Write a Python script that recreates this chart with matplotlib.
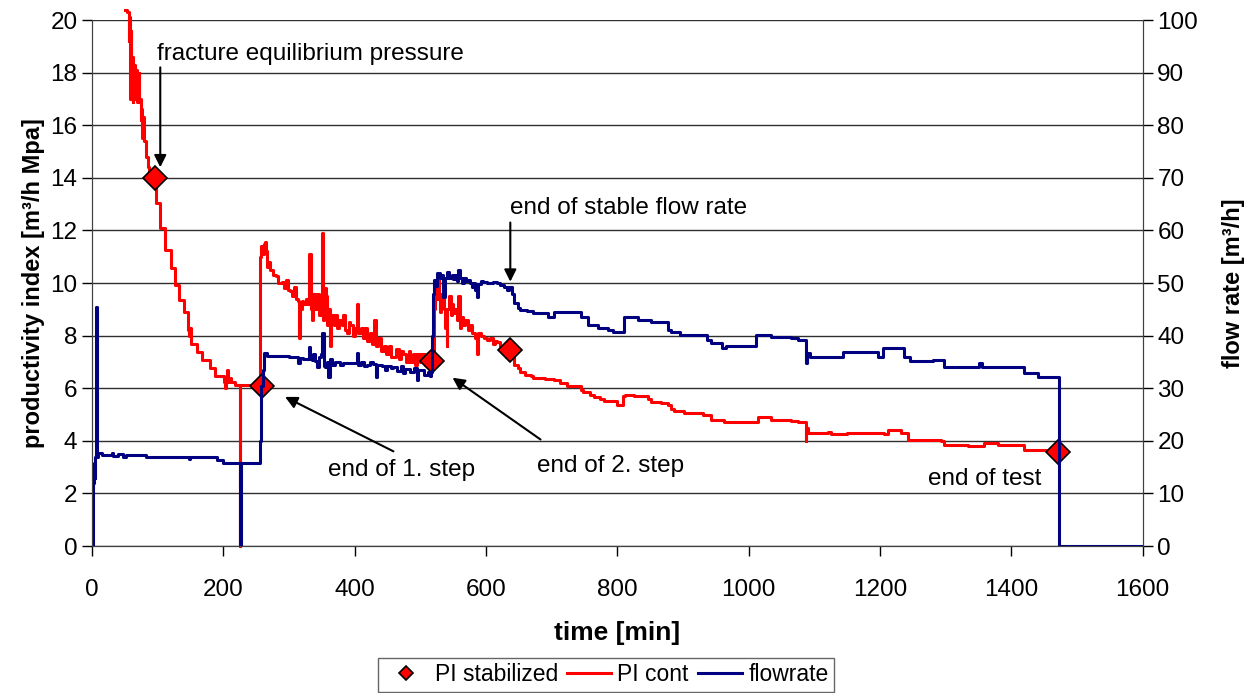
import numpy as np
import matplotlib.pyplot as plt

plt.rcParams['font.family'] = ['Liberation Sans', 'DejaVu Sans']

# PI (continuous) - time [min] and productivity index [m3/h MPa], step values
pi_time = [50, 53, 56, 57, 58, 59, 60, 61, 62, 63, 65, 67, 69, 71, 72, 74, 75, 76, 78, 79,
           82, 85, 87, 97, 104, 111, 120, 127, 133, 140, 146, 148, 150, 151, 160, 168, 180, 187,
           201, 203, 204, 206, 207, 210, 212, 218, 225, 226,
           256, 258, 260, 262, 264, 265, 266, 269, 271, 276, 280, 283, 290, 293, 296, 299, 302, 305,
           308, 310, 313, 315, 317, 320, 322, 326, 329, 331, 333, 335, 337, 340, 343, 346, 349, 351,
           352.5, 354, 356, 358, 360, 362, 364, 368, 370, 373, 376, 380, 383, 386, 389, 391, 393, 397,
           400, 403, 405, 409, 412, 416, 419, 423, 427, 430, 432, 436, 440, 444, 448, 452, 455, 459,
           463, 467, 470, 474, 478, 482, 485, 489, 492, 495, 499, 503, 507, 510, 513, 516,
           521, 523, 525, 527, 529, 530, 532, 534, 536, 538, 540, 541, 543, 546, 548, 550, 553, 556,
           558, 560, 562, 565, 568, 572, 575, 578, 584, 586, 588, 593, 597, 602, 606, 610, 614, 617,
           621, 625, 630, 632, 640, 642, 648, 652, 660, 668, 672, 690, 703, 713, 724, 744, 748, 759,
           764, 774, 779, 800, 809, 812, 825, 846, 851, 866, 877, 881, 886, 901, 931, 942, 962, 1014,
           1034, 1064, 1075, 1087, 1088, 1090, 1120, 1125, 1150, 1206, 1212, 1232, 1242, 1293, 1297,
           1334, 1358, 1380, 1410, 1419, 1471]
pi_value = [20.4, 20.3, 19.2, 20.1, 17.0, 19.6, 17.4, 18.6, 16.9, 18.3, 17.0, 18.1, 16.9, 18.0, 17.0, 16.2, 16.6, 15.5, 16.3, 15.4,
            14.8, 14.4, 14.05, 13.04, 12.1, 11.25, 10.57, 9.92, 9.35, 8.9, 8.2, 8.0, 8.3, 7.7, 7.38, 7.07, 6.77, 6.46,
            6.24, 6.0, 6.24, 6.7, 6.24, 6.4, 6.24, 6.12, 0.0, 6.12,
            11.0, 11.4, 11.1, 11.5, 11.56, 11.2, 10.6, 10.8, 10.5, 10.3, 10.25, 10.0, 10.04, 9.8, 10.1, 9.73, 9.7, 9.5,
            9.85, 9.4, 9.3, 7.9, 9.0, 9.3, 9.2, 9.4, 9.2, 11.1, 9.0, 8.6, 9.6, 9.0, 9.6, 8.8, 9.2, 11.9,
            8.6, 9.8, 9.5, 8.4, 9.0, 7.6, 8.8, 8.4, 8.8, 8.3, 8.6, 8.4, 8.8, 8.2, 8.1, 8.5, 8.4, 8.0,
            8.3, 9.2, 8.1, 8.3, 7.9, 8.3, 7.8, 8.1, 7.7, 8.6, 7.6, 7.9, 7.4, 7.6, 7.3, 7.6, 7.2, 7.2,
            7.5, 7.1, 7.4, 7.3, 7.0, 7.4, 7.0, 7.3, 6.9, 7.3, 7.0, 7.3, 6.9, 7.2, 6.95, 7.05,
            9.0, 9.85, 9.4, 10.1, 9.5, 8.9, 9.6, 9.4, 9.0, 8.3, 7.6, 9.0, 9.5, 8.8, 9.2, 8.85, 9.0, 8.6,
            9.5, 8.3, 8.7, 8.4, 8.6, 8.2, 8.4, 8.1, 7.9, 7.3, 8.1, 8.0, 7.9, 7.85, 7.9, 7.7, 7.8, 7.75,
            7.6, 7.5, 7.2, 7.5, 7.2, 6.9, 6.75, 6.6, 6.5, 6.45, 6.4, 6.35, 6.3, 6.2, 6.1, 5.95, 5.86, 5.74,
            5.67, 5.6, 5.5, 5.36, 5.7, 5.75, 5.7, 5.6, 5.48, 5.45, 5.36, 5.2, 5.15, 5.06, 5.0, 4.8, 4.7, 4.9,
            4.8, 4.75, 4.7, 4.0, 4.5, 4.3, 4.35, 4.25, 4.3, 4.25, 4.4, 4.3, 4.03, 4.0, 3.84,
            3.8, 3.9, 3.85, 3.85, 3.65, 3.57]

# PI stabilized points
pi_stab_time = [96, 259, 518, 637, 1471]
pi_stab_value = [14.0, 6.1, 7.03, 7.47, 3.57]

# flow rate [m3/h]
flow_time = [0, 1, 2, 3, 4, 5, 6, 7, 9, 15, 30, 32, 40, 48, 52, 82, 147, 149, 191, 200, 226, 227,
             256, 258, 260, 262, 266, 300, 314, 317, 322, 330, 332, 335, 337, 340, 343, 346, 349, 351,
             353, 355, 358, 360, 362, 366, 370, 377, 383, 389, 398, 403, 405, 409, 414, 419, 424, 428,
             432, 434, 442, 446, 450, 455, 459, 465, 470, 474, 476, 485, 490, 495, 497, 505, 511, 514,
             517, 518, 519, 521, 524, 526, 530, 533, 535, 537, 541, 544, 548, 550, 553, 556, 558, 560,
             564, 567, 570, 572, 575, 578, 581, 584, 586, 588, 593, 596, 602, 610, 617, 622, 627, 632,
             635, 640, 642, 648, 652, 663, 672, 694, 703, 744, 755, 770, 785, 794, 810, 831, 851, 877,
             881, 896, 937, 942, 960, 965, 1011, 1034, 1064, 1075, 1087, 1089, 1093, 1143, 1197, 1204,
             1236, 1245, 1280, 1297, 1350, 1356, 1419, 1440, 1473, 1598]
flow_value = [0, 8.7, 12.0, 15.8, 13.0, 17.0, 45.4, 17.0, 17.7, 17.3, 17.6, 17.2, 17.4, 17.0, 17.3, 16.9, 16.5, 16.9, 16.35, 15.8, 0, 15.8,
              20.0, 30.5, 33.5, 36.7, 36.2, 36.0, 34.8, 35.8, 35.5, 37.8, 35.5, 35.3, 36.5, 35.2, 34.0, 36.0, 36.5, 40.5,
              34.2, 34.0, 35.0, 32.1, 35.5, 34.5, 35.0, 34.5, 34.7, 34.8, 34.7, 36.7, 34.5, 35.0, 34.2, 34.5, 35.0, 34.6,
              32.1, 34.4, 34.2, 33.5, 34.3, 33.8, 34.0, 33.3, 34.2, 32.8, 33.6, 33.0, 33.8, 31.6, 33.5, 32.5, 33.0, 32.4,
              33.0, 40.0, 48.0, 50.6, 49.5, 51.9, 51.0, 51.5, 47.3, 51.0, 52.1, 51.0, 51.5, 50.8, 51.5, 50.4, 52.5, 51.0,
              50.0, 50.9, 50.3, 50.6, 50.0, 49.2, 50.0, 48.6, 47.3, 49.8, 50.4, 50.2, 50.0, 50.2, 50.0, 49.6, 49.2, 48.6,
              49.2, 48.0, 46.2, 45.2, 44.9, 44.7, 44.3, 43.5, 44.5, 43.5, 42.0, 41.4, 41.1, 40.7, 43.5, 43.0, 42.6, 41.1,
              40.7, 40.1, 39.2, 38.6, 37.6, 38.0, 40.1, 39.8, 39.5, 39.2, 34.8, 36.7, 36.0, 36.9, 36.0, 37.6,
              36.0, 35.2, 35.4, 34.0, 34.8, 34.1, 32.9, 32.2, 0, 0]

# Create figure with two y axes
fig = plt.figure(figsize=(12.53, 6.93), dpi=100)
ax = fig.add_axes([0.0734, 0.2121, 0.8386, 0.759])
ax2 = ax.twinx()

ax.plot(pi_time, pi_value, color='#ff0000', lw=2.2, drawstyle='steps-post', clip_on=False, label='PI cont')
ax.plot(pi_stab_time, pi_stab_value, linestyle='none', marker='D', ms=12, mfc='#ff0000', mec='black', mew=1.2,
        zorder=3, label='PI stabilized')
ax2.plot(flow_time, flow_value, color='#000080', lw=2.2, drawstyle='steps-post', label='flowrate')

# Axes limits and ticks
ax.set_xlim(0, 1600)
ax.set_ylim(0, 20)
ax2.set_ylim(0, 100)
ax.set_xticks(np.arange(0, 1601, 200))
ax.set_yticks(np.arange(0, 21, 2))
ax2.set_yticks(np.arange(0, 101, 10))
ax.tick_params(axis='both', labelsize=17.5, direction='out', length=7, width=1)
ax.tick_params(axis='x', pad=17)
ax2.tick_params(axis='y', labelsize=17.5, direction='out', length=7, width=1)
ax.grid(axis='y', color='#303030', lw=1)
for a in (ax, ax2):
    a.spines['top'].set_visible(False)
    for s in ('left', 'right', 'bottom'):
        a.spines[s].set_color('#404040')

ax.set_xlabel('time [min]', fontsize=19, fontweight='bold', labelpad=14)
ax.set_ylabel('productivity index [m³/h Mpa]', fontsize=17, fontweight='bold', labelpad=4)
ax2.set_ylabel('flow rate [m³/h]', fontsize=17, fontweight='bold', labelpad=17)

# Annotations
arrow = dict(arrowstyle='-|>', color='black', lw=1.5, mutation_scale=18, shrinkA=0, shrinkB=0)
ax.text(99, 18.7, 'fracture equilibrium pressure', fontsize=17.5, va='center')
ax.annotate('', xy=(104, 14.4), xytext=(104, 18.2), arrowprops=arrow)
ax.text(637, 12.85, 'end of stable flow rate', fontsize=17.5, va='center')
ax.annotate('', xy=(637, 10.05), xytext=(637, 12.3), arrowprops=arrow)
ax.text(360, 2.9, 'end of 1. step', fontsize=17.5, va='center')
ax.annotate('', xy=(294, 5.67), xytext=(459, 3.6), arrowprops=arrow)
ax.text(678, 3.05, 'end of 2. step', fontsize=17.5, va='center')
ax.annotate('', xy=(549, 6.4), xytext=(683, 4.05), arrowprops=arrow)
ax.text(1273, 2.55, 'end of test', fontsize=17.5, va='center')

# Legend below the plot
h1, l1 = ax.get_legend_handles_labels()
h2, l2 = ax2.get_legend_handles_labels()
handles = [h1[1], h1[0], h2[0]]
labels = [l1[1], l1[0], l2[0]]
leg = fig.legend(handles, labels, loc='center', bbox_to_anchor=(0.484, 0.026), ncol=3, fontsize=16.5,
                 fancybox=False, edgecolor='#404040', markerscale=0.6, handlelength=1.9,
                 handletextpad=0.3, columnspacing=0.4, borderpad=0.25)
leg.get_frame().set_linewidth(1)

plt.savefig('out.png', dpi=100)
